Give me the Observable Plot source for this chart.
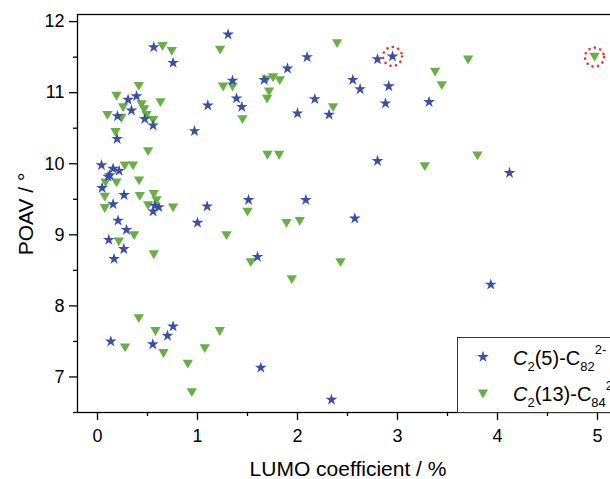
<!DOCTYPE html>
<html><head><meta charset="utf-8">
<script src="https://cdn.jsdelivr.net/npm/d3@7"></script>
<script src="https://cdn.jsdelivr.net/npm/@observablehq/plot@0.6"></script>
<style>
html,body{margin:0;padding:0;overflow:hidden;background:#fff;}
#chart{position:relative;width:610px;height:479px;overflow:hidden;}
#chart svg{display:block;max-width:none !important;}
</style>
</head><body><div id="chart"></div>
<script>
// C2(5)-C82 2- (blue stars)
const starX = [0.04,0.156,0.216,0.123,0.106,0.046,0.266,0.156,0.573,0.613,0.556,0.206,0.29,0.113,0.263,0.166,
  1.096,1.0,1.51,1.60,0.133,0.553,0.70,0.756,1.633,2.34,1.306,0.563,0.756,1.35,1.39,1.443,1.103,0.97,
  0.39,0.306,0.34,0.2,0.473,0.556,0.196,2.096,1.90,1.666,2.173,2.0,2.316,2.553,2.626,2.80,2.95,2.913,
  2.88,3.316,2.80,4.12,2.083,2.573,3.933];
const starY = [9.98,9.93,9.90,9.84,9.82,9.66,9.56,9.43,9.41,9.39,9.33,9.20,9.07,8.93,8.80,8.66,
  9.40,9.17,9.49,8.69,7.50,7.46,7.58,7.71,7.13,6.68,11.82,11.64,11.42,11.17,10.92,10.80,10.82,10.46,
  10.95,10.90,10.75,10.67,10.63,10.54,10.35,11.50,11.34,11.18,10.91,10.71,10.69,11.18,11.05,11.47,11.51,11.09,
  10.85,10.87,10.04,9.87,9.49,9.23,8.30];
// C2(13)-C84 2- (green down triangles)
const triX = [0.65,0.743,1.226,0.413,0.19,0.63,0.44,0.466,0.256,0.1,0.24,0.49,0.556,0.18,0.506,1.256,1.35,1.45,
  0.273,0.356,0.416,0.08,0.19,0.073,0.423,0.563,0.59,0.506,0.073,0.756,1.50,0.366,1.29,0.213,0.563,1.533,
  0.413,0.276,0.58,0.66,0.903,0.943,1.073,1.223,1.943,2.43,1.89,2.023,1.70,1.816,1.69,1.756,1.823,1.716,
  1.696,2.356,2.396,3.376,3.443,3.706,3.273,3.80,4.97];
const triY = [11.65,11.58,11.60,11.09,10.95,10.86,10.83,10.76,10.79,10.68,10.64,10.68,10.61,10.44,10.17,11.08,11.08,10.62,
  9.97,9.97,9.76,9.73,9.73,9.53,9.54,9.57,9.48,9.41,9.37,9.38,9.32,8.99,8.99,8.90,8.72,8.61,
  7.82,7.41,7.64,7.33,7.18,6.78,7.40,7.64,8.37,8.61,9.16,9.19,10.12,10.12,11.18,11.21,11.17,11.01,
  10.91,10.79,11.69,11.29,11.10,11.46,9.96,10.11,11.50];
const seriesNames = ["C2(5)-C82 2-", "C2(13)-C84 2-"];
const xTicks = [0,1,2,3,4,5];
const xMinor = [0.5,1.5,2.5,3.5,4.5];
const yTicks = [7,8,9,10,11,12];
const yMinor = [6.5,7.5,8.5,9.5,10.5,11.5];
const circledStarX = 2.95, circledTriX = 4.97;

const blue = "#3b4fa6", green = "#68b046", red = "#e8322b";
const font = "'Liberation Sans', Arial, sans-serif";

const stars = starX.map((x,i)=>({x, y: starY[i]}));
const tris = triX.map((x,i)=>({x, y: triY[i]}));
const circled = [stars[starX.indexOf(circledStarX)], tris[triX.indexOf(circledTriX)]];

const triDown = {draw(ctx, size){
  const w = Math.sqrt(size)*1.17, h = w*0.85;
  ctx.moveTo(-w/2,-h/2); ctx.lineTo(w/2,-h/2); ctx.lineTo(0,h/2); ctx.closePath();
}};

const W = 625, H = 479;
const plot = Plot.plot({
  width: W, height: H,
  marginLeft: 77, marginRight: 8, marginTop: 14, marginBottom: 67,
  style: {fontFamily: font, fontSize: "18px", background: "white", color: "black", overflow: "visible", maxWidth: "none"},
  x: {domain: [-0.2, 5.2]},
  y: {domain: [6.5, 12.1]},
  marks: [
    Plot.frame({stroke: "black", strokeWidth: 1.3}),
    Plot.axisX({ticks: xTicks, tickSize: 8, tickPadding: 9, fontSize: 18, label: null, strokeWidth: 1.3, tickFormat: d3.format("d")}),
    Plot.axisX({ticks: xMinor, tickSize: 4, tickFormat: () => "", label: null, strokeWidth: 1.3}),
    Plot.axisY({ticks: yTicks, tickSize: 8, tickPadding: 5, fontSize: 18, label: null, strokeWidth: 1.3, tickFormat: d3.format("d")}),
    Plot.axisY({ticks: yMinor, tickSize: 4, tickFormat: () => "", label: null, strokeWidth: 1.3}),
    Plot.dot(tris, {x: "x", y: "y", symbol: triDown, r: 5, fill: green, stroke: "none"}),
    Plot.dot(stars, {x: "x", y: "y", symbol: "star", r: 3.7, fill: blue, stroke: "none"}),
    Plot.dot(circled, {x: "x", y: "y", r: 9.5, fill: "none", stroke: red, strokeWidth: 2.6,
      strokeDasharray: "0.1,5.5", strokeLinecap: "round"})
  ]
});
document.getElementById("chart").appendChild(plot);

const svg = d3.select(plot);
// axis titles
svg.append("text").attr("transform", "translate(33,214) rotate(-90)")
  .attr("text-anchor", "middle").attr("font-size", 21).attr("font-family", font)
  .attr("fill", "black").text("POAV / °");
svg.append("text").attr("x", 348).attr("y", 476)
  .attr("text-anchor", "middle").attr("font-size", 21).attr("font-family", font)
  .attr("fill", "black").text("LUMO coefficient / %");

// legend
const lg = svg.append("g").attr("font-family", font).attr("fill", "black").attr("text-anchor", "start");
lg.append("rect").attr("x", 457.5).attr("y", 337.5).attr("width", 200).attr("height", 75)
  .attr("fill", "white").attr("stroke", "#333").attr("stroke-width", 1);
lg.append("path").attr("transform", "translate(483,357)")
  .attr("d", d3.symbol(d3.symbolStar, 3.7*3.7*Math.PI)()).attr("fill", blue);
lg.append("path").attr("transform", "translate(483,394)")
  .attr("d", d3.symbol(triDown, 25*Math.PI)()).attr("fill", green);
function legendText(y, parts){
  const t = lg.append("text").attr("x", 513).attr("y", y).attr("font-size", 20).attr("text-anchor", "start");
  t.append("tspan").attr("font-style", "italic").text("C");
  t.append("tspan").attr("font-size", 13).attr("dy", 6).text("2");
  t.append("tspan").attr("dy", -6).text(parts[0]);
  t.append("tspan").attr("font-size", 13).attr("dy", 6).text(parts[1]);
  t.append("tspan").attr("font-size", 13).attr("dy", -17).text("2-");
}
legendText(365, ["(5)-C", "82"]);
legendText(401, ["(13)-C", "84"]);
</script>
</body></html>
